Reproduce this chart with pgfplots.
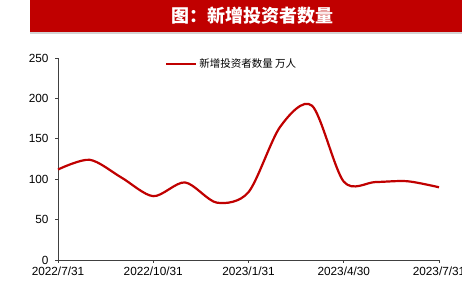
\documentclass[border=0pt]{standalone}
\usepackage{fontspec}
\setmainfont{Liberation Sans}
\newfontfamily\cjk{Noto Sans CJK SC}
\usepackage{pgfplots}
\pgfplotsset{compat=1.18}
\usetikzlibrary{shadows}
\definecolor{bannerred}{HTML}{C00000}
\definecolor{linered}{HTML}{C00000}
\definecolor{axisgray}{HTML}{404040}

\begin{document}
\begin{tikzpicture}
\useasboundingbox (0pt,0pt) rectangle (462pt,283pt);
\clip (0pt,0pt) rectangle (462pt,283pt);
% title banner
\fill[bannerred, drop shadow={opacity=0.35, shadow xshift=0pt, shadow yshift=-2pt}]
  (30pt,251pt) rectangle (470pt,290pt);
\node[text=white, font=\cjk\bfseries\fontsize{18}{20}\selectfont] at (252pt,267pt) {图：新增投资者数量};

\begin{axis}[
  at={(58pt,23pt)}, anchor=south west,
  scale only axis, width=381pt, height=202pt,
  xmin=0, xmax=12, ymin=0, ymax=250,
  axis x line*=bottom, axis y line*=left,
  axis line style={axisgray, line width=0.8pt, -},
  xtick={0,3,6,9,12},
  xticklabels={2022/7/31,2022/10/31,2023/1/31,2023/4/30,2023/7/31},
  ytick={0,50,...,250},
  tick style={axisgray, line width=0.6pt},
  tick align=outside,
  major tick length=3pt,
  tick label style={font=\fontsize{11.8}{14}\selectfont, text=black},
  /pgf/number format/assume math mode=true,
  xticklabel style={yshift=0pt},
  yticklabel style={xshift=-3pt},
  legend style={at={(axis description cs:0.281,0.970)}, anchor=west,
    draw=none, fill=none, inner sep=0pt, outer sep=0pt,
    font=\cjk\fontsize{10.5}{12}\selectfont, text=black},
  legend image code/.code={\draw[#1] (0pt,0pt) -- (30pt,0pt);},
  clip=false,
]
\addplot[linered, line width=2.2pt, smooth, tension=0.5] coordinates {
  (0,112) (1,124) (2,102) (3,79) (4,96) (5,71) (6,84)
  (7,165) (8,191) (9,97) (10,96.5) (11,97.5) (12,90)
};
\addlegendentry{新增投资者数量 万人}
\end{axis}
\end{tikzpicture}
\end{document}
